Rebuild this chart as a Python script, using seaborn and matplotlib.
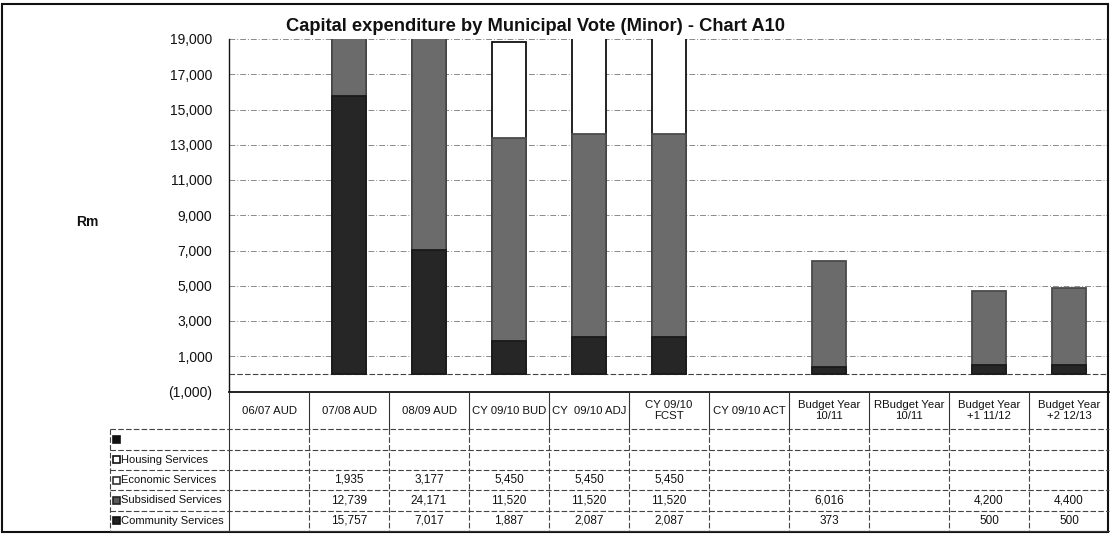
import numpy as np
import pandas as pd
import matplotlib
matplotlib.use("Agg")
import matplotlib.pyplot as plt
from matplotlib.patches import Rectangle
from matplotlib.ticker import FuncFormatter
import seaborn as sns

# ---- data -------------------------------------------------------------
categories = ["06/07 AUD", "07/08 AUD", "08/09 AUD", "CY 09/10 BUD",
              "CY  09/10 ADJ", "CY 09/10\nFCST", "CY 09/10 ACT",
              "Budget Year\n10/11", "RBudget Year\n10/11",
              "Budget Year\n+1 11/12", "Budget Year\n+2 12/13"]
nan = np.nan
unnamed = [nan, nan, nan, nan, nan, nan, nan, nan, nan, nan, nan]
housing = [nan, nan, nan, nan, nan, nan, nan, nan, nan, nan, nan]
economic = [nan, 1935, 3177, 5450, 5450, 5450, nan, nan, nan, nan, nan]
subsidised = [nan, 12739, 24171, 11520, 11520, 11520, nan, 6016, nan, 4200, 4400]
community = [nan, 15757, 7017, 1887, 2087, 2087, nan, 373, nan, 500, 500]

series_names = ["", "Housing Services", "Economic Services",
                "Subsidised Services", "Community Services"]
series_values = [unnamed, housing, economic, subsidised, community]
y_ticks = [-1000, 1000, 3000, 5000, 7000, 9000, 11000, 13000, 15000, 17000, 19000]
title = "Capital expenditure by Municipal Vote (Minor) - Chart A10"

# ---- style ------------------------------------------------------------
sns.set_style("white")
plt.rcParams["font.family"] = ["Liberation Sans", "DejaVu Sans"]

W, H = 1110, 534
fig = plt.figure(figsize=(W / 100, H / 100), dpi=100)


def px_box(x0, y0, x1, y1):
    return [x0 / W, 1 - y1 / H, (x1 - x0) / W, (y1 - y0) / H]


PLOT_L, PLOT_R, PLOT_T, PLOT_B = 229, 1109, 39, 391.5
ax = fig.add_axes(px_box(PLOT_L, PLOT_T, PLOT_R, PLOT_B))

df = pd.DataFrame({"cat": categories, "comm": community,
                   "subs": subsidised, "econ": economic})
df["lvl_comm"] = df["comm"]
df["lvl_subs"] = df["comm"].fillna(0) + df["subs"]
df["lvl_econ"] = df["lvl_subs"] + df["econ"]

colors = {"econ": "#ffffff", "subs": "#6b6b6b", "comm": "#262626"}
edges = {"econ": "#111111", "subs": "#4a4a4a", "comm": "#1a1a1a"}

# stacked columns drawn as overlapping cumulative totals
for key in ["econ", "subs", "comm"]:
    sns.barplot(data=df, x="cat", y=f"lvl_{key}", order=categories,
                color=colors[key], edgecolor=edges[key], linewidth=1.3,
                saturation=1, width=0.42, errorbar=None, ax=ax)

ax.set_xlim(-0.5, len(categories) - 0.5)
ax.set_ylim(-1000, 19000)
ax.set_yticks(y_ticks)
ax.yaxis.set_major_formatter(FuncFormatter(
    lambda v, p: f"({abs(v):,.0f})" if v < 0 else f"{v:,.0f}"))
ax.set_xticks([])
ax.set_xlabel("")
ax.set_ylabel("")
ax.tick_params(axis="y", direction="inout", length=6, width=0.8,
               labelsize=10, pad=9, colors="#111111")
ax.yaxis.grid(True, linestyle=(0, (6, 2, 1, 2)), color="#8a8a8a", linewidth=0.7)
ax.set_axisbelow(True)
ax.axhline(0, color="#444444", linewidth=0.8, linestyle=(0, (5, 2)), zorder=0.5)
for side in ["top", "right"]:
    ax.spines[side].set_visible(False)
ax.spines["left"].set_color("#111111")
ax.spines["left"].set_linewidth(1.0)
ax.spines["bottom"].set_color("#111111")
ax.spines["bottom"].set_linewidth(1.3)

# ---- overlay for title, unit label and data table ---------------------
ov = fig.add_axes([0, 0, 1, 1])
ov.set_xlim(0, W)
ov.set_ylim(H, 0)
ov.axis("off")

ov.text(536, 31, title, ha="center", va="baseline", fontsize=13.2,
        fontweight="bold", color="#111111")
ov.text(87, 222, "Rm", ha="center", va="center", fontsize=10,
        fontweight="bold", color="#111111")

n = len(categories)
col_w = (PLOT_R - PLOT_L) / n
col_x = [PLOT_L + col_w * i for i in range(n + 1)]
TAB_L = 110
row_y = [429, 449.5, 470, 490, 510.5, 531]

line_kw = dict(color="#333333", linewidth=0.8)
dash_kw = dict(color="#444444", linewidth=0.8, linestyle=(0, (5, 2)))

# header row: category names
for i, cat in enumerate(categories):
    ov.text(col_x[i] + col_w / 2, 410.5, cat, ha="center", va="center",
            fontsize=8.2, linespacing=1.2, color="#111111")
for x in col_x[1:-1]:
    ov.plot([x, x], [PLOT_B, row_y[0]], **line_kw)
ov.plot([PLOT_L, PLOT_L], [PLOT_B, row_y[-1]], **line_kw)

# body rows
for y in row_y[:-1]:
    ov.plot([TAB_L, PLOT_R], [y, y], **dash_kw)
ov.plot([TAB_L, PLOT_R], [row_y[-1], row_y[-1]], **line_kw)
ov.plot([TAB_L, TAB_L], [row_y[0], row_y[-1]], **dash_kw)
for x in col_x[1:-1]:
    ov.plot([x, x], [row_y[0], row_y[-1]], **dash_kw)

key_face = ["#111111", "#ffffff", "#ffffff", "#5a5a5a", "#222222"]
key_edge = ["#111111", "#111111", "#333333", "#222222", "#111111"]
for r, (name, vals) in enumerate(zip(series_names, series_values)):
    yc = (row_y[r] + row_y[r + 1]) / 2
    ov.add_patch(Rectangle((113, yc - 3.5), 6.5, 7, facecolor=key_face[r],
                           edgecolor=key_edge[r], linewidth=1.2))
    ov.text(121, yc, name, ha="left", va="center", fontsize=8, color="#111111")
    for i, v in enumerate(vals):
        if not np.isnan(v):
            ov.text(col_x[i] + col_w / 2, yc, f"{v:,.0f}", ha="center",
                    va="center", fontsize=8.5, color="#111111")

# outer frame
ov.add_patch(Rectangle((2, 4), 1106, 528, fill=False, edgecolor="#111111",
                       linewidth=1.5))

fig.savefig("out.png", dpi=100)
